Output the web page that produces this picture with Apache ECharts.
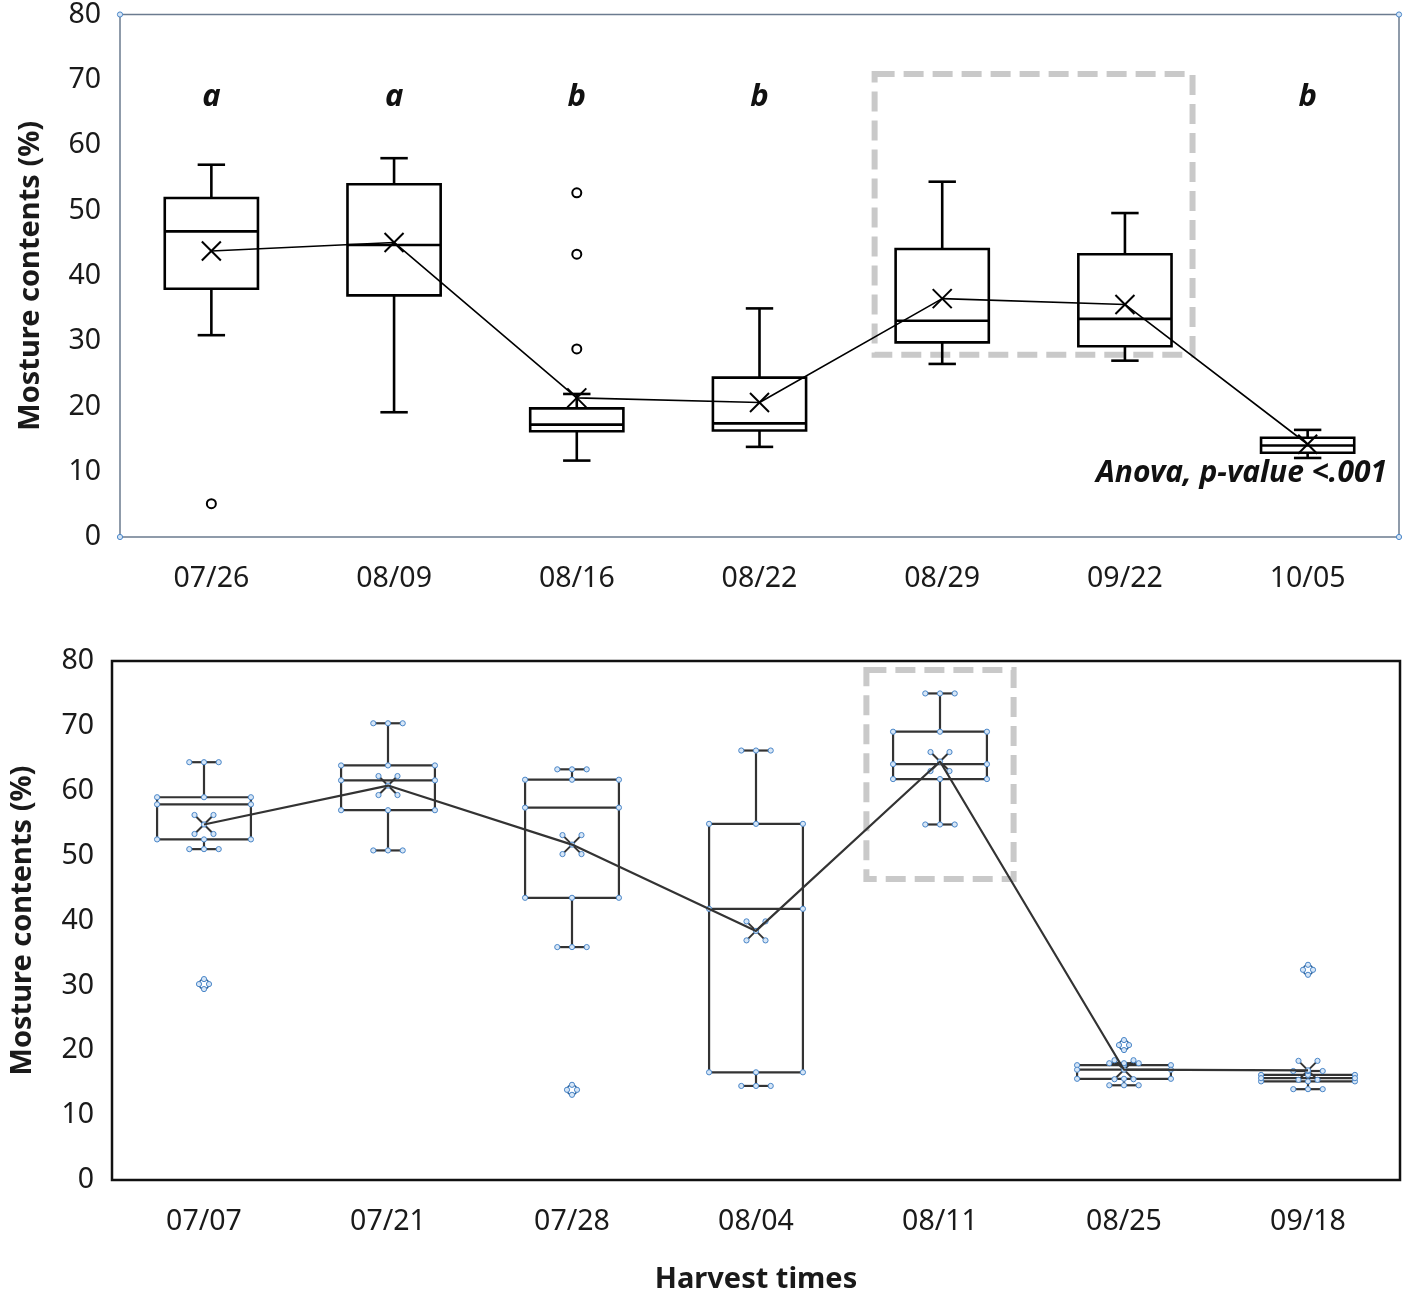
<!DOCTYPE html>
<html><head><meta charset="utf-8">
<script src="https://cdn.jsdelivr.net/npm/echarts@6/dist/echarts.min.js"></script>
<style>html,body{margin:0;padding:0;background:#fff}#c{width:1421px;height:1301px}</style>
</head><body><div id="c"></div>
<script>
// ---------- top panel data ----------
const topCategories = ['07/26','08/09','08/16','08/22','08/29','09/22','10/05'];
const topMin    = [30.9, 19.1, 11.7, 13.8, 26.5, 27.0, 12.1];
const topQ1     = [38.0, 37.0, 16.2, 16.3, 29.8, 29.2, 12.9];
const topMedian = [46.8, 44.7, 17.2, 17.4, 33.1, 33.4, 14.0];
const topQ3     = [51.9, 54.0, 19.7, 24.4, 44.1, 43.3, 15.2];
const topMax    = [57.0, 58.0, 21.9, 35.0, 54.4, 49.6, 16.4];
const topMean   = [43.8, 45.1, 21.3, 20.6, 36.5, 35.6, 14.2];
const topOutliers = [[0, 5.1], [2, 52.7], [2, 43.3], [2, 28.8]];
const topLetters = ['a', 'a', 'b', 'b', '', '', 'b'];
const topLetterValue = 67.4;
const topHighlight = [4, 5, 70.9, 27.9, 0.37]; // from cat, to cat, top value, bottom value, pad (band fraction)
const topNote = 'Anova, p-value <.001';

// ---------- bottom panel data ----------
const bottomCategories = ['07/07','07/21','07/28','08/04','08/11','08/25','09/18'];
const bottomMin    = [51.0, 50.8, 35.9, 14.5, 54.8, 14.6, 14.0];
const bottomQ1     = [52.5, 57.0, 43.5, 16.6, 61.8, 15.6, 15.2];
const bottomMedian = [57.9, 61.6, 57.4, 41.8, 64.1, 17.0, 15.7];
const bottomQ3     = [59.0, 63.9, 61.7, 54.9, 69.1, 17.7, 16.2];
const bottomMax    = [64.4, 70.4, 63.3, 66.2, 75.0, 18.0, 16.8];
const bottomMean   = [54.8, 60.8, 51.7, 38.4, 64.5, 17.0, 16.9];
const bottomOutliers = [[0, 30.2], [2, 13.9], [5, 20.8], [6, 32.4]];
const bottomHighlight = [4, 4, 78.6, 46.4, 0.40];

const yTicks = [0, 80, 10]; // min, max, interval
const yTitle = 'Mosture contents (%)';
const xTitle = 'Harvest times';

const FONT = '"Noto Sans", "Open Sans", sans-serif';

function boxRows(mn, q1, md, q3, mx, mean) {
  return mn.map((v, i) => [i, mn[i], q1[i], md[i], q3[i], mx[i], mean[i]]);
}

function handle(x, y) {
  return { type: 'circle', shape: { cx: x, cy: y, r: 2.6 },
    style: { fill: '#d6e6f7', stroke: '#4a86c8', lineWidth: 1 }, z2: 10 };
}

function boxRenderer(o) {
  return function (params, api) {
    const i = api.value(0);
    const band = api.size([1, 0])[0];
    const cx = api.coord([i, 0])[0];
    const Y = v => api.coord([i, v])[1];
    const yMin = Y(api.value(1)), yQ1 = Y(api.value(2)), yMed = Y(api.value(3)),
          yQ3 = Y(api.value(4)), yMax = Y(api.value(5)), yMean = Y(api.value(6));
    const hw = band * o.boxFrac / 2, cw = band * o.capFrac / 2, xs = o.xHalf;
    const st = { stroke: o.color, lineWidth: o.lineWidth, fill: 'transparent' };
    const ch = [
      { type: 'rect', shape: { x: cx - hw, y: yQ3, width: 2 * hw, height: yQ1 - yQ3 }, style: st },
      { type: 'line', shape: { x1: cx - hw, y1: yMed, x2: cx + hw, y2: yMed }, style: st },
      { type: 'line', shape: { x1: cx, y1: yQ3, x2: cx, y2: yMax }, style: st },
      { type: 'line', shape: { x1: cx, y1: yQ1, x2: cx, y2: yMin }, style: st },
      { type: 'line', shape: { x1: cx - cw, y1: yMax, x2: cx + cw, y2: yMax }, style: st },
      { type: 'line', shape: { x1: cx - cw, y1: yMin, x2: cx + cw, y2: yMin }, style: st },
      { type: 'line', shape: { x1: cx - xs, y1: yMean - xs, x2: cx + xs, y2: yMean + xs }, style: { stroke: o.color, lineWidth: o.xWidth }, z2: 5 },
      { type: 'line', shape: { x1: cx - xs, y1: yMean + xs, x2: cx + xs, y2: yMean - xs }, style: { stroke: o.color, lineWidth: o.xWidth }, z2: 5 }
    ];
    if (o.handles) {
      [[cx - hw, yQ3], [cx, yQ3], [cx + hw, yQ3], [cx - hw, yQ1], [cx, yQ1], [cx + hw, yQ1],
       [cx - hw, yMed], [cx + hw, yMed],
       [cx - cw, yMax], [cx, yMax], [cx + cw, yMax], [cx - cw, yMin], [cx, yMin], [cx + cw, yMin],
       [cx - xs, yMean - xs], [cx + xs, yMean - xs], [cx - xs, yMean + xs], [cx + xs, yMean + xs], [cx, yMean]
      ].forEach(p => ch.push(handle(p[0], p[1])));
    }
    return { type: 'group', children: ch };
  };
}

function outlierRenderer(o) {
  return function (params, api) {
    const p = api.coord([api.value(0), api.value(1)]);
    const ch = [{ type: 'circle', shape: { cx: p[0], cy: p[1], r: o.r },
      style: { fill: '#fff', stroke: o.color, lineWidth: o.lineWidth } }];
    if (o.handles) {
      [[0, -o.r], [o.r, 0], [0, o.r], [-o.r, 0]].forEach(d => ch.push(handle(p[0] + d[0], p[1] + d[1])));
    }
    return { type: 'group', children: ch };
  };
}

function highlightRenderer(o) {
  return function (params, api) {
    const band = api.size([1, 0])[0];
    const pad = api.value(4) * band;
    const a = api.coord([api.value(0), api.value(2)]);
    const b = api.coord([api.value(1), api.value(3)]);
    const ch = [{ type: 'rect',
      shape: { x: a[0] - pad, y: a[1], width: b[0] + pad - (a[0] - pad), height: b[1] - a[1] },
      style: { fill: 'transparent', stroke: '#c9c9c9', lineWidth: 6, lineDash: [20, 9] } }];
    if (o.corners) {
      const cs = params.coordSys;
      [[cs.x, cs.y], [cs.x + cs.width, cs.y], [cs.x, cs.y + cs.height], [cs.x + cs.width, cs.y + cs.height]]
        .forEach(p => ch.push(handle(p[0], p[1])));
    }
    return { type: 'group', children: ch };
  };
}

function letterRenderer(params, api) {
  const i = api.value(0);
  const p = api.coord([i, api.value(1)]);
  return { type: 'text', x: p[0], y: p[1],
    style: { text: topLetters[i], font: 'italic bold 31px ' + FONT, fill: '#111',
             textAlign: 'center', textVerticalAlign: 'middle' } };
}

const axisLabelStyle = { fontSize: 28.5, color: '#1a1a1a', fontFamily: FONT };
const nameStyle = { fontSize: 29, fontWeight: 'bold', color: '#1a1a1a', fontFamily: FONT };

const chart = echarts.init(document.getElementById('c'), null, { renderer: 'canvas' });
chart.setOption({
  animation: false,
  backgroundColor: '#fff',
  grid: [
    { left: 120, right: 22, top: 8, height: 529, show: true, borderColor: '#6b7b8f', borderWidth: 1.5, backgroundColor: '#fff' },
    { left: 111, right: 21, top: 661, height: 519, show: true, borderColor: '#111', borderWidth: 2.5, backgroundColor: '#fff' }
  ],
  xAxis: [
    { type: 'category', gridIndex: 0, data: topCategories, axisLine: { show: false }, axisTick: { show: false },
      axisLabel: Object.assign({ margin: 27 }, axisLabelStyle) },
    { type: 'category', gridIndex: 1, data: bottomCategories, axisLine: { show: false }, axisTick: { show: false },
      axisLabel: Object.assign({ margin: 27 }, axisLabelStyle),
      name: xTitle, nameLocation: 'middle', nameGap: 85, nameTextStyle: nameStyle }
  ],
  yAxis: [
    { type: 'value', gridIndex: 0, min: yTicks[0], max: yTicks[1], interval: yTicks[2],
      splitLine: { show: false }, axisLine: { show: false }, axisTick: { show: false },
      axisLabel: Object.assign({ margin: 19 }, axisLabelStyle),
      name: yTitle, nameLocation: 'middle', nameGap: 75, nameTextStyle: nameStyle },
    { type: 'value', gridIndex: 1, min: yTicks[0], max: yTicks[1], interval: yTicks[2],
      splitLine: { show: false }, axisLine: { show: false }, axisTick: { show: false },
      axisLabel: Object.assign({ margin: 18 }, axisLabelStyle),
      name: yTitle, nameLocation: 'middle', nameGap: 75, nameTextStyle: nameStyle }
  ],
  graphic: [
    { type: 'text', left: 1096, top: 458, z: 100,
      style: { text: topNote, font: 'italic bold 30px ' + FONT, fill: '#111' } }
  ],
  series: [
    // top panel
    { type: 'custom', xAxisIndex: 0, yAxisIndex: 0, z: 1, clip: false,
      renderItem: highlightRenderer({ corners: true }), data: [topHighlight] },
    { type: 'custom', xAxisIndex: 0, yAxisIndex: 0, z: 2,
      renderItem: boxRenderer({ color: '#000', lineWidth: 2.6, boxFrac: 0.51, capFrac: 0.15, xHalf: 9.5, xWidth: 2, handles: false }),
      encode: { x: 0, y: [1, 2, 3, 4, 5, 6] },
      data: boxRows(topMin, topQ1, topMedian, topQ3, topMax, topMean) },
    { type: 'line', xAxisIndex: 0, yAxisIndex: 0, z: 3, data: topMean, showSymbol: false, symbol: 'none',
      lineStyle: { color: '#000', width: 1.6 } },
    { type: 'custom', xAxisIndex: 0, yAxisIndex: 0, z: 3,
      renderItem: outlierRenderer({ r: 4.5, color: '#000', lineWidth: 2, handles: false }), data: topOutliers },
    { type: 'custom', xAxisIndex: 0, yAxisIndex: 0, z: 3, renderItem: letterRenderer,
      data: topLetters.map((l, i) => [i, topLetterValue]).filter((d, i) => topLetters[i] !== '') },
    // bottom panel
    { type: 'custom', xAxisIndex: 1, yAxisIndex: 1, z: 1, clip: false,
      renderItem: highlightRenderer({ corners: false }), data: [bottomHighlight] },
    { type: 'custom', xAxisIndex: 1, yAxisIndex: 1, z: 2,
      renderItem: boxRenderer({ color: '#333', lineWidth: 2.2, boxFrac: 0.51, capFrac: 0.16, xHalf: 9.5, xWidth: 2, handles: true }),
      encode: { x: 0, y: [1, 2, 3, 4, 5, 6] },
      data: boxRows(bottomMin, bottomQ1, bottomMedian, bottomQ3, bottomMax, bottomMean) },
    { type: 'line', xAxisIndex: 1, yAxisIndex: 1, z: 3, data: bottomMean, showSymbol: false, symbol: 'none',
      lineStyle: { color: '#333', width: 2.2 } },
    { type: 'custom', xAxisIndex: 1, yAxisIndex: 1, z: 3,
      renderItem: outlierRenderer({ r: 5, color: '#2d5f93', lineWidth: 1.6, handles: true }), data: bottomOutliers }
  ]
});
</script>
</body></html>
